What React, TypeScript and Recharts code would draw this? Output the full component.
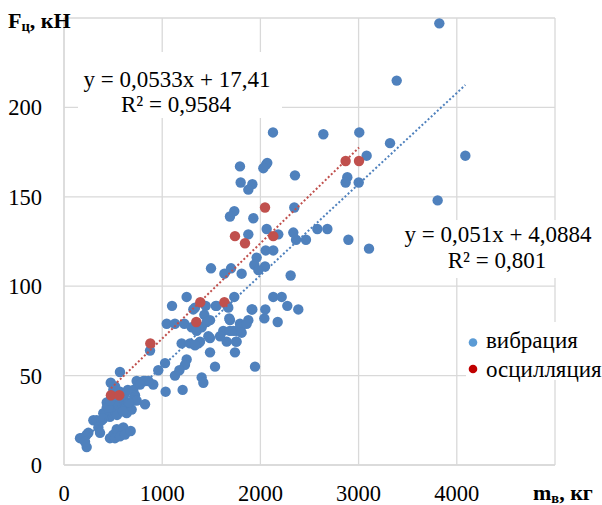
import React from 'react';
import { ScatterChart, Scatter, XAxis, YAxis, CartesianGrid } from 'recharts';

const seriesNames = ['вибрация', 'осцилляция'];

const vibrationX = [
  3822, 3388, 3320, 4087, 3805, 2641, 3007, 3082, 2885, 2868, 3001, 2580, 2682, 2464, 2363, 2896, 3106,
  2128, 1792, 2057, 2070, 2030, 2352, 1799, 1918, 1877, 1734, 1690, 1928, 2345, 1877, 2064, 2182, 2335,
  2054, 2131, 1962, 1938, 2047, 1979, 1497, 1633, 1701, 1809, 2308,
  1249, 1100, 1443, 1545, 1555, 1663, 1734, 1673, 1317, 1334, 1918, 2050, 2040,
  1046, 1130, 1225, 1429, 1487, 1683, 1792, 1877, 1911, 2176, 2131, 2217, 2274, 2386,
  1622, 1690, 1758, 1657, 1758, 1487, 1198, 1283, 1368, 1385, 1334, 1487, 1741, 1249, 1232, 1538, 1945,
  1029, 960, 1130, 1175, 1402, 1419, 825, 909, 1208, 1035,
  1470, 1589, 1724, 1799, 1860, 1752, 1690, 1809, 1402, 1453, 1300, 1351, 876,
  570, 476, 740, 808, 859, 706, 723, 706, 655, 638, 825, 502, 570, 604, 435, 486, 537, 588, 435, 502, 570,
  468, 400, 299, 333, 384, 400, 350, 367, 163, 180, 231, 248, 231, 214, 468, 502, 519, 537, 553, 570, 604,
  621, 679, 774, 740, 689, 486, 520, 560, 620, 650, 540, 600, 450, 470, 660, 520,
];
const vibrationY = [
  247, 215, 180, 173, 148, 185, 186, 173, 161, 158, 158, 132, 132, 126, 126, 126, 121,
  186, 167, 168, 169, 166, 162, 158, 157, 154, 142, 139, 138, 144, 129, 132, 129, 130,
  120, 120, 116, 112, 111, 109, 110, 107, 110, 107, 106,
  94, 89, 89, 89, 89, 89, 94, 88, 87, 88, 87, 87, 82,
  79, 79, 79, 84, 81, 82, 79, 81, 87, 80, 94, 94, 89, 87,
  75, 75, 75, 69, 69, 71, 68, 68, 68, 69, 67, 63, 63, 59, 56, 55, 55,
  57, 53, 50, 53, 49, 46, 47, 45, 42, 41,
  72, 72, 75, 77, 79, 69, 81, 74, 77, 80, 77, 75, 64,
  52, 46, 47, 47, 47, 42, 39, 36, 31, 29, 34, 42, 41, 38, 35, 35, 34, 34, 32, 31, 32,
  27, 29, 25, 25, 25, 26, 21, 18, 15, 15, 17, 18, 10, 13, 15, 17, 15, 20, 19, 16, 21,
  17, 19, 45, 36, 31, 38, 36, 38, 40, 42, 28, 30, 32, 36, 35, 44,
];

const oscillationX = [478, 563, 879, 1347, 1388, 1633, 1741, 1843, 2047, 2131, 2868, 3004];
const oscillationY = [39, 39, 68, 80, 91, 91, 128, 124, 144, 128, 170, 170];

const xTicks = [0, 1000, 2000, 3000, 4000, 5000];
const yTicks = [0, 50, 100, 150, 200, 250];

const trendVib = { slope: 0.051, intercept: 4.0884, label: 'y = 0,051x + 4,0884', r2: 'R² = 0,801' };
const trendOsc = { slope: 0.0533, intercept: 17.41, label: 'y = 0,0533x + 17,41', r2: 'R² = 0,9584' };

const vibData = vibrationX.map((x, i) => ({ x, y: vibrationY[i] }));
const oscData = oscillationX.map((x, i) => ({ x, y: oscillationY[i] }));

const trendPoints = (xs: number[], t: { slope: number; intercept: number }) => {
  const mn = Math.min(...xs);
  const mx = Math.max(...xs);
  return [
    { x: mn, y: t.slope * mn + t.intercept },
    { x: mx, y: t.slope * mx + t.intercept },
  ];
};

const vibTrend = trendPoints(vibrationX, trendVib);
const oscTrend = trendPoints(oscillationX, trendOsc);

const BLUE = '#4F81BD';
const RED = '#C0504D';
const FONT = "'Liberation Serif', 'Times New Roman', 'DejaVu Serif', serif";
const txt: React.CSSProperties = { fontFamily: FONT };

const dot = (color: string) => (props: any) => (
  <circle cx={props.cx} cy={props.cy} r={5.2} fill={color} />
);

const noShape = () => <g />;

export default function App() {
  return (
    <div style={{ position: 'absolute', left: 0, top: 0, width: 602, height: 505, background: '#fff', fontFamily: FONT }}>
      <ScatterChart width={602} height={505} margin={{ top: 18, right: 47, left: 0, bottom: 0 }} style={txt}>
        <CartesianGrid stroke="#D9D9D9" strokeWidth={1.3} />
        <XAxis
          type="number"
          dataKey="x"
          domain={[0, 5000]}
          ticks={xTicks}
          tickFormatter={(v: number) => (v === 5000 ? '' : String(v))}
          height={40}
          tickLine={false}
          tickMargin={14}
          axisLine={{ stroke: '#D9D9D9', strokeWidth: 1.3 }}
          tick={{ fontSize: 22.5, fill: '#000', style: txt }}
          allowDataOverflow
        />
        <YAxis
          type="number"
          dataKey="y"
          domain={[0, 250]}
          ticks={yTicks}
          tickFormatter={(v: number) => (v === 250 ? '' : String(v))}
          width={64}
          tickLine={false}
          tickMargin={16}
          axisLine={{ stroke: '#D9D9D9', strokeWidth: 1.3 }}
          tick={{ fontSize: 22.5, fill: '#000', style: txt }}
          allowDataOverflow
        />
        <Scatter name={seriesNames[0]} data={vibData} fill={BLUE} shape={dot(BLUE)} isAnimationActive={false} />
        <Scatter name={seriesNames[1]} data={oscData} fill={RED} shape={dot(RED)} isAnimationActive={false} />
        <Scatter
          data={vibTrend}
          fill={BLUE}
          line={{ stroke: BLUE, strokeWidth: 2, strokeDasharray: '2 2.2' }}
          shape={noShape}
          isAnimationActive={false}
          legendType="none"
        />
        <Scatter
          data={oscTrend}
          fill={RED}
          line={{ stroke: RED, strokeWidth: 2, strokeDasharray: '2 2.2' }}
          shape={noShape}
          isAnimationActive={false}
          legendType="none"
        />
      </ScatterChart>
      <svg
        width={602}
        height={505}
        style={{ position: 'absolute', left: 0, top: 0, pointerEvents: 'none', fontFamily: FONT }}
      >
        <text x={8} y={28} style={txt} fontSize={22} fontWeight="bold" fill="#000">
          F<tspan fontSize={14.5} dy={3}>ц</tspan><tspan dy={-3}>, кН</tspan>
        </text>
        <text x={533} y={500} style={txt} fontSize={22} fontWeight="bold" fill="#000">
          m<tspan fontSize={14.5} dy={3}>в</tspan><tspan dy={-3}>, кг</tspan>
        </text>
        <rect x={78} y={52} width={204} height={66} fill="#fff" />
        <text x={177} y={87} textAnchor="middle" style={txt} fontSize={23} fill="#000">{trendOsc.label}</text>
        <text x={176} y={112} textAnchor="middle" style={txt} fontSize={23} fill="#000">{trendOsc.r2}</text>
        <rect x={400} y={220} width={202} height={58} fill="#fff" />
        <text x={498} y={242} textAnchor="middle" style={txt} fontSize={23} fill="#000">{trendVib.label}</text>
        <text x={497} y={268} textAnchor="middle" style={txt} fontSize={23} fill="#000">{trendVib.r2}</text>
        <rect x={466} y={322} width={136} height={58} fill="#fff" />
        <circle cx={473} cy={342.5} r={4.3} fill="#5B9BD5" />
        <text x={486} y={348} style={txt} fontSize={23} fill="#000">{seriesNames[0]}</text>
        <circle cx={473} cy={369} r={4.3} fill="#C00000" />
        <text x={486} y={377} style={txt} fontSize={23} fill="#000">{seriesNames[1]}</text>
      </svg>
    </div>
  );
}
